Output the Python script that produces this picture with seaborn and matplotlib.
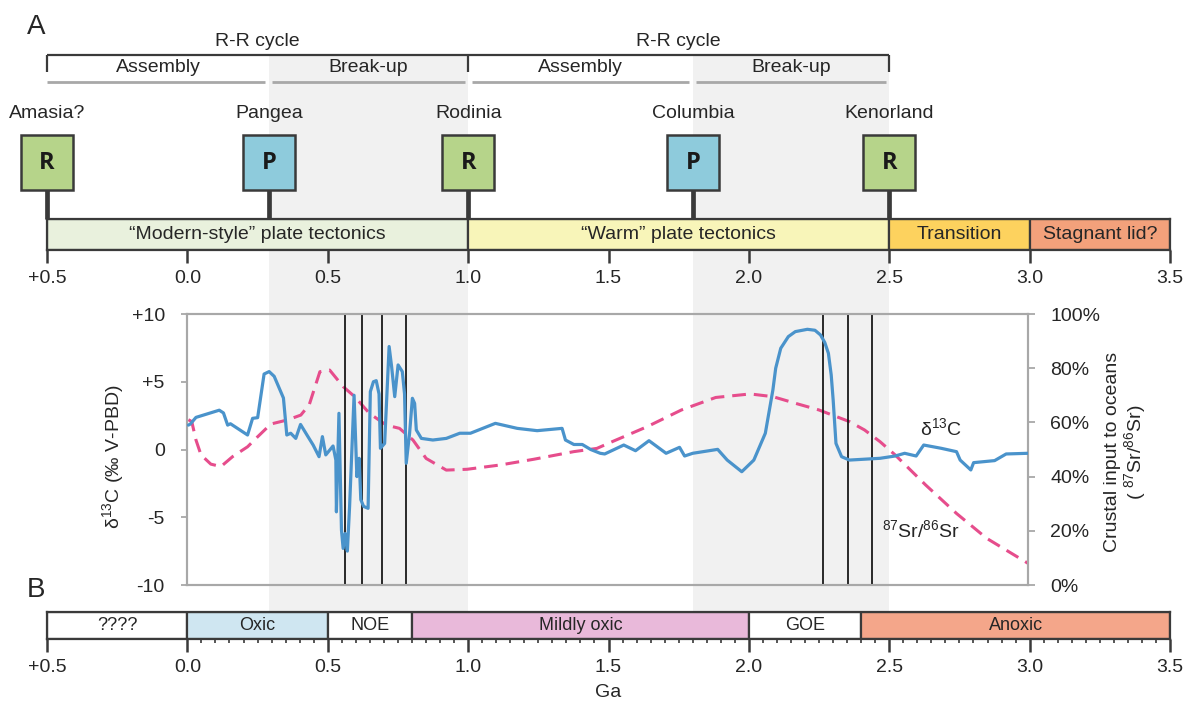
import numpy as np
import pandas as pd
import matplotlib
matplotlib.use("Agg")
import matplotlib.pyplot as plt
import seaborn as sns

# ---------------- data ----------------
ga_ticks = [-0.5, 0.0, 0.5, 1.0, 1.5, 2.0, 2.5, 3.0, 3.5]
ga_tick_labels = ["+0.5", "0.0", "0.5", "1.0", "1.5", "2.0", "2.5", "3.0", "3.5"]

tect_names = ["\u201cModern-style\u201d plate tectonics", "\u201cWarm\u201d plate tectonics",
              "Transition", "Stagnant lid?"]
tect_start = [-0.5, 1.0, 2.5, 3.0]
tect_end = [1.0, 2.5, 3.0, 3.5]

sc_names = ["Amasia?", "Pangea", "Rodinia", "Columbia", "Kenorland"]
sc_ages = [-0.5, 0.29, 1.0, 1.8, 2.5]
sc_letters = ["R", "P", "R", "P", "R"]

cycle_names = ["R-R cycle", "R-R cycle"]
cycle_start = [-0.5, 1.0]
cycle_end = [1.0, 2.5]

phase_names = ["Assembly", "Break-up", "Assembly", "Break-up"]
phase_start = [-0.5, 0.29, 1.0, 1.8]
phase_end = [0.29, 1.0, 1.8, 2.5]

c13_age = [0.005, 0.012, 0.032, 0.115, 0.13, 0.145, 0.155, 0.216, 0.234, 0.252, 0.275, 0.293,
           0.311, 0.344, 0.356, 0.370, 0.388, 0.405, 0.430, 0.450, 0.471, 0.483, 0.495, 0.521,
           0.531, 0.533, 0.542, 0.551, 0.557, 0.564, 0.572, 0.580, 0.596, 0.606, 0.614, 0.620,
           0.630, 0.646, 0.654, 0.665, 0.675, 0.685, 0.690, 0.705, 0.721, 0.730, 0.741, 0.753,
           0.768, 0.776, 0.782, 0.794, 0.804, 0.812, 0.818, 0.836, 0.877, 0.925, 0.973, 1.011,
           1.10, 1.178, 1.249, 1.338, 1.35, 1.38, 1.41, 1.44, 1.474, 1.49, 1.558, 1.60, 1.648,
           1.709, 1.757, 1.775, 1.804, 1.893, 1.927, 1.979, 2.022, 2.063, 2.09, 2.10, 2.118,
           2.145, 2.17, 2.213, 2.24, 2.26, 2.275, 2.288, 2.298, 2.305, 2.315, 2.335, 2.363,
           2.472, 2.526, 2.56, 2.601, 2.628, 2.69, 2.745, 2.758, 2.796, 2.806, 2.881, 2.922, 3.0]
c13_val = [1.8, 1.88, 2.37, 2.9, 2.7, 1.8, 1.9, 1.07, 2.3, 2.35, 5.57, 5.75,
           5.4, 3.8, 1.07, 1.2, 0.82, 1.85, 1.0, 0.33, -0.53, 0.95, -0.4, 0.26,
           -0.78, -4.6, 2.67, -5.94, -7.3, -6.2, -7.5, -4.2, 4.0, -2.0, -0.65, -3.7,
           -4.2, -4.34, 4.27, 5.0, 5.08, 4.1, 0.09, 0.45, 7.6, 6.1, 3.9, 6.24,
           5.75, 4.1, -1.02, 1.2, 3.78, 3.4, 1.44, 0.82, 0.7, 0.82, 1.2, 1.2,
           1.93, 1.56, 1.39, 1.56, 0.7, 0.37, 0.37, 0.0, -0.28, -0.33, 0.33, -0.09, 0.65,
           -0.28, 0.16, -0.48, -0.28, 0.01, -0.78, -1.64, -0.78, 1.2, 4.4, 6.0, 7.47,
           8.33, 8.7, 8.87, 8.8, 8.45, 7.9, 7.1, 5.5, 3.65, 0.45, -0.53, -0.78,
           -0.65, -0.48, -0.28, -0.48, 0.33, 0.09, -0.16, -0.78, -1.51, -0.97, -0.82, -0.33, -0.28]

sr_age = [0.005, 0.017, 0.032, 0.05, 0.085, 0.121, 0.163, 0.216, 0.252, 0.299, 0.358, 0.406,
          0.436, 0.474, 0.509, 0.557, 0.598, 0.651, 0.711, 0.758, 0.806, 0.853, 0.925, 0.999,
          1.118, 1.237, 1.379, 1.462, 1.517, 1.641, 1.764, 1.886, 2.009, 2.09, 2.172, 2.254,
          2.363, 2.417, 2.472, 2.526, 2.635, 2.745, 2.853, 3.0]
sr_pct = [61.0, 60.3, 53.5, 48.0, 44.6, 43.7, 47.4, 51.0, 54.7, 59.4, 60.9, 62.7,
          66.5, 78.7, 79.3, 73.2, 69.5, 63.3, 59.0, 57.8, 53.5, 46.7, 42.4, 42.7,
          44.3, 46.4, 49.2, 50.4, 52.9, 58.4, 64.6, 69.2, 70.5, 69.5, 67.0, 64.6,
          60.3, 57.2, 52.9, 48.0, 36.9, 26.4, 17.2, 8.0]

event_ages = [0.563, 0.625, 0.697, 0.78, 2.267, 2.357, 2.443]

c13_ticks = [-10, -5, 0, 5, 10]
c13_tick_labels = ["-10", "-5", "0", "+5", "+10"]
sr_ticks = [0, 20, 40, 60, 80, 100]
sr_tick_labels = ["0%", "20%", "40%", "60%", "80%", "100%"]

ox_names = ["????", "Oxic", "NOE", "Mildly oxic", "GOE", "Anoxic"]
ox_start = [-0.5, 0.0, 0.5, 0.8, 2.0, 2.4]
ox_end = [0.0, 0.5, 0.8, 2.0, 2.4, 3.5]

# ---------------- style ----------------
sns.set_theme(style="white")
plt.rcParams["font.family"] = ["Liberation Sans", "DejaVu Sans"]
plt.rcParams["mathtext.fontset"] = "custom"
plt.rcParams["mathtext.rm"] = "Liberation Sans"
plt.rcParams["mathtext.it"] = "Liberation Sans:italic"
plt.rcParams["mathtext.bf"] = "Liberation Sans:bold"

TXT = "#262626"
DARK = "#3a3a3a"
GRAYLINE = "#a8a8a8"
SHADE = "#f1f1f1"
tect_colors = ["#e9f1dd", "#f8f5b9", "#fdd25e", "#f3a17b"]
sc_colors = {"R": "#b6d48a", "P": "#8ecbdc"}
ox_colors = ["#ffffff", "#cfe6f1", "#ffffff", "#e9b9da", "#ffffff", "#f4a68a"]
BLUE = "#4a93cb"
PINK = "#e64d8c"

W, H = 1188, 708
PX = 280.8   # pixels per Ga
X0 = 47      # pixel position of -0.5 Ga

fig = plt.figure(figsize=(W / 100, H / 100), dpi=100)

def fx(p):
    return p / W

def fy(p):
    return 1 - p / H

# background axes: x in Ga, y in pixel rows
bg = fig.add_axes([0, 0, 1, 1], zorder=0)
bg.set_xlim(-0.5 - X0 / PX, -0.5 + (W - X0) / PX)
bg.set_ylim(H, 0)
bg.axis("off")

# shaded break-up intervals
for s, e, n in zip(phase_start, phase_end, phase_names):
    if n == "Break-up":
        bg.bar((s + e) / 2, 612 - 55, bottom=55, width=e - s, color=SHADE, zorder=0, linewidth=0)

# R-R cycle brackets
bg.hlines(55, min(cycle_start), max(cycle_end), color=DARK, lw=1.6, zorder=2)
bg.vlines(sorted(set(cycle_start + cycle_end)), 55, 72, color=DARK, lw=1.6, zorder=2)
for s, e, n in zip(cycle_start, cycle_end, cycle_names):
    bg.text((s + e) / 2, 42, n, ha="center", va="center", fontsize=14, color=TXT)

gap = 0.012
for s, e, n in zip(phase_start, phase_end, phase_names):
    s2 = s if s == min(phase_start) else s + gap
    bg.hlines(82, s2, e - gap, color=GRAYLINE, lw=2, zorder=2)
    bg.text((s + e) / 2, 68, n, ha="center", va="center", fontsize=14, color=TXT)

# supercontinent boxes
bg.vlines(sc_ages, 190, 219, color=DARK, lw=3.4, zorder=2)
bg.bar(sc_ages, 55, bottom=135, width=52 / PX,
       color=[sc_colors[l] for l in sc_letters], edgecolor=DARK, linewidth=1.8, zorder=3)
for a, n, l in zip(sc_ages, sc_names, sc_letters):
    bg.text(a, 113, n, ha="center", va="center", fontsize=14, color=TXT)
    bg.text(a, 163, l, ha="center", va="center", fontsize=17, fontweight="bold",
            family=["Open Sans", "DejaVu Sans"], color="#1a1a1a", zorder=4)

# ---------------- top tectonic bar ----------------
tb = fig.add_axes([fx(47), fy(250), (1170 - 47) / W, (250 - 219) / H], zorder=1)
tb.barh(0.5, [e - s for s, e in zip(tect_start, tect_end)], left=tect_start, height=1,
        color=tect_colors, edgecolor=DARK, linewidth=1.6)
for s, e, n in zip(tect_start, tect_end, tect_names):
    tb.text((s + e) / 2, 0.5, n, ha="center", va="center", fontsize=14, color=TXT)
tb.set_xlim(-0.5, 3.5)
tb.set_ylim(0, 1)
tb.set_yticks([])
tb.set_xticks(ga_ticks)
tb.set_xticklabels(ga_tick_labels)
tb.tick_params(axis="x", length=9.5, width=1.8, color=DARK, pad=5, labelsize=14, labelcolor=TXT,
               bottom=True)
for sp in tb.spines.values():
    sp.set_color(DARK)
    sp.set_linewidth(1.6)

# ---------------- middle plot ----------------
mx = fig.add_axes([fx(187), fy(585), (1028 - 187) / W, (585 - 314) / H], zorder=3)
mx2 = mx.twinx()
mx2.set_zorder(2)
mx.patch.set_visible(False)
mx2.patch.set_visible(False)

mx.vlines(event_ages, -10, 10, color="#1a1a1a", lw=1.3, zorder=1)
sns.lineplot(x=c13_age, y=c13_val, ax=mx, color=BLUE, lw=2.3, sort=False, estimator=None, zorder=3)
sns.lineplot(x=sr_age, y=sr_pct, ax=mx2, color=PINK, lw=2.2, sort=False, estimator=None)
mx2.lines[-1].set_dashes([4.5, 2.6])

mx.set_xlim(0, 3.0)
mx.set_ylim(-10, 10)
mx2.set_ylim(0, 100)
mx.set_xticks([])
mx.set_yticks(c13_ticks)
mx.set_yticklabels(c13_tick_labels)
mx2.set_yticks(sr_ticks)
mx2.set_yticklabels(sr_tick_labels)
mx.tick_params(axis="y", left=True, length=4, width=1.3, color=GRAYLINE, pad=12,
               labelsize=14, labelcolor=TXT)
mx2.tick_params(axis="y", right=True, length=5, width=1.3, color=GRAYLINE, pad=11,
                labelsize=14, labelcolor=TXT)
for a in (mx, mx2):
    for sp in a.spines.values():
        sp.set_color(GRAYLINE)
        sp.set_linewidth(1.5)
    a.set_xlabel("")
    a.set_ylabel("")

mx.text((113 - 187) / 841, (585 - 457) / 271, "\u03b4$^{13}$C (\u2030 V-PBD)", rotation=90,
        ha="center", va="center", fontsize=14, color=TXT, transform=mx.transAxes)
mx.text((1126 - 187) / 841, (585 - 452) / 271, "Crustal input to oceans\n( $^{87}$Sr/$^{86}$Sr)",
        rotation=90, ha="center", va="center", fontsize=14, color=TXT, transform=mx.transAxes,
        linespacing=1.05, multialignment="center")
mx.text(2.69, 1.6, "\u03b4$^{13}$C", ha="center", va="center", fontsize=14, color=TXT)
mx.text(2.617, -5.94, "$^{87}$Sr/$^{86}$Sr", ha="center", va="center", fontsize=14, color=TXT)

# ---------------- bottom redox bar ----------------
bb = fig.add_axes([fx(47), fy(639), (1170 - 47) / W, (639 - 612) / H], zorder=1)
bb.barh(0.5, [e - s for s, e in zip(ox_start, ox_end)], left=ox_start, height=1,
        color=ox_colors, edgecolor=DARK, linewidth=1.6)
for s, e, n in zip(ox_start, ox_end, ox_names):
    bb.text((s + e) / 2, 0.5, n, ha="center", va="center", fontsize=13, color=TXT)
bb.set_xlim(-0.5, 3.5)
bb.set_ylim(0, 1)
bb.set_yticks([])
bb.set_xticks(ga_ticks)
bb.set_xticklabels(ga_tick_labels)
bb.set_xticks(np.arange(0.05, 3.5, 0.05), minor=True)
bb.tick_params(axis="x", which="major", length=9.2, width=1.8, color=DARK, pad=5,
               labelsize=14, labelcolor=TXT, bottom=True)
bb.tick_params(axis="x", which="minor", length=3, width=1.2, color=DARK, bottom=True)
bb.set_xlabel("Ga", fontsize=14, color=TXT, labelpad=6)
for sp in bb.spines.values():
    sp.set_color(DARK)
    sp.set_linewidth(1.6)

# panel letters
fig.text(fx(36), fy(27), "A", fontsize=20, ha="center", va="center", color=TXT)
fig.text(fx(36), fy(590), "B", fontsize=20, ha="center", va="center", color=TXT)

fig.savefig("out.png", dpi=100)
